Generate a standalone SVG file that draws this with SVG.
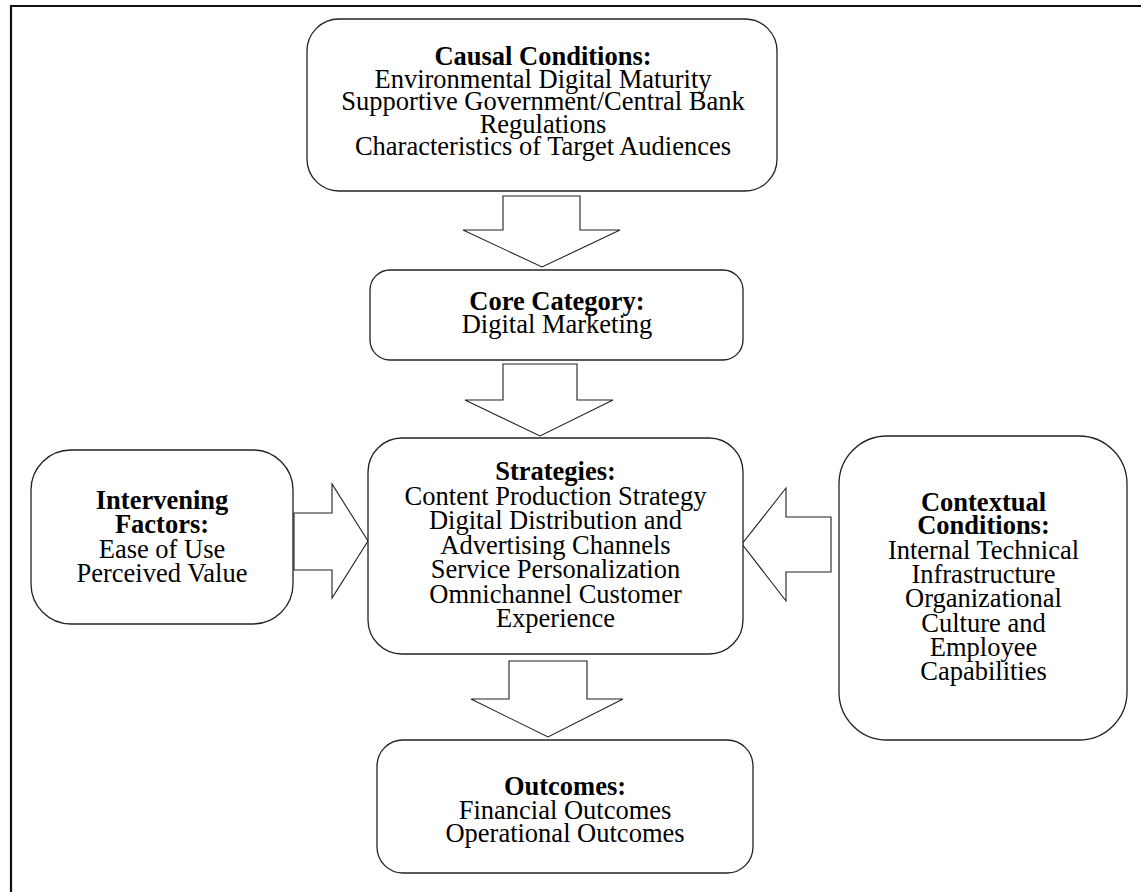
<svg xmlns="http://www.w3.org/2000/svg" width="1141" height="892" viewBox="0 0 1141 892">
<style>
.box{fill:#fff;stroke:#222;stroke-width:1.3}
.arr{fill:#fff;stroke:#222;stroke-width:1.1;stroke-linejoin:miter}
text{font-family:"Liberation Serif","Times New Roman",serif;font-size:26.5px;fill:#000;text-anchor:middle}
.b{font-weight:bold}
</style>
<rect width="1141" height="892" fill="#fff"/>
<path d="M11,892 V6 H1141" fill="none" stroke="#111" stroke-width="2.2"/>
<g id="connectors">
<polygon class="arr" points="503,196 580,196 580,230 620,230 542,267 463,230 503,230"/>
<polygon class="arr" points="503,364 577,364 577,400 613,400 540,436 465,400 503,400"/>
<polygon class="arr" points="509,661 587,661 587,699 623,699 548,737 471,699 509,699"/>
<polygon class="arr" points="294,513 332,513 332,484 368,541 332,598 332,570 294,570"/>
<polygon class="arr" points="831,517 786,517 786,488 742,544 786,601 786,572 831,572"/>
</g>
<g id="causal">
<rect class="box" x="307" y="19" width="470" height="172" rx="32"/>
<text x="543" y="65"><tspan class="b">Causal Conditions:</tspan><tspan x="543" y="87.5">Environmental Digital Maturity</tspan><tspan x="543" y="110">Supportive Government/Central Bank</tspan><tspan x="543" y="132.5">Regulations</tspan><tspan x="543" y="155">Characteristics of Target Audiences</tspan></text>
</g>
<g id="core">
<rect class="box" x="370" y="270" width="373" height="90" rx="20"/>
<text x="557" y="310"><tspan class="b">Core Category:</tspan><tspan x="557" y="333">Digital Marketing</tspan></text>
</g>
<g id="strategies">
<rect class="box" x="368" y="438" width="375" height="216" rx="34"/>
<text x="555.5" y="480"><tspan class="b">Strategies:</tspan><tspan x="555.5" y="504.5">Content Production Strategy</tspan><tspan x="555.5" y="529">Digital Distribution and</tspan><tspan x="555.5" y="553.5">Advertising Channels</tspan><tspan x="555.5" y="578">Service Personalization</tspan><tspan x="555.5" y="602.5">Omnichannel Customer</tspan><tspan x="555.5" y="627">Experience</tspan></text>
</g>
<g id="intervening">
<rect class="box" x="31" y="450" width="262" height="174" rx="40"/>
<text x="162" y="509"><tspan class="b">Intervening</tspan><tspan class="b" x="162" y="533">Factors:</tspan><tspan x="162" y="557.5">Ease of Use</tspan><tspan x="162" y="582">Perceived Value</tspan></text>
</g>
<g id="contextual">
<rect class="box" x="839" y="436" width="288" height="304" rx="48"/>
<text x="983.5" y="511"><tspan class="b">Contextual</tspan><tspan class="b" x="983.5" y="534">Conditions:</tspan><tspan x="983.5" y="558.5">Internal Technical</tspan><tspan x="983.5" y="583">Infrastructure</tspan><tspan x="983.5" y="607">Organizational</tspan><tspan x="983.5" y="631.5">Culture and</tspan><tspan x="983.5" y="656">Employee</tspan><tspan x="983.5" y="680">Capabilities</tspan></text>
</g>
<g id="outcomes">
<rect class="box" x="377" y="740" width="376" height="133" rx="26"/>
<text x="565" y="795"><tspan class="b">Outcomes:</tspan><tspan x="565" y="818.5">Financial Outcomes</tspan><tspan x="565" y="842">Operational Outcomes</tspan></text>
</g>
</svg>
